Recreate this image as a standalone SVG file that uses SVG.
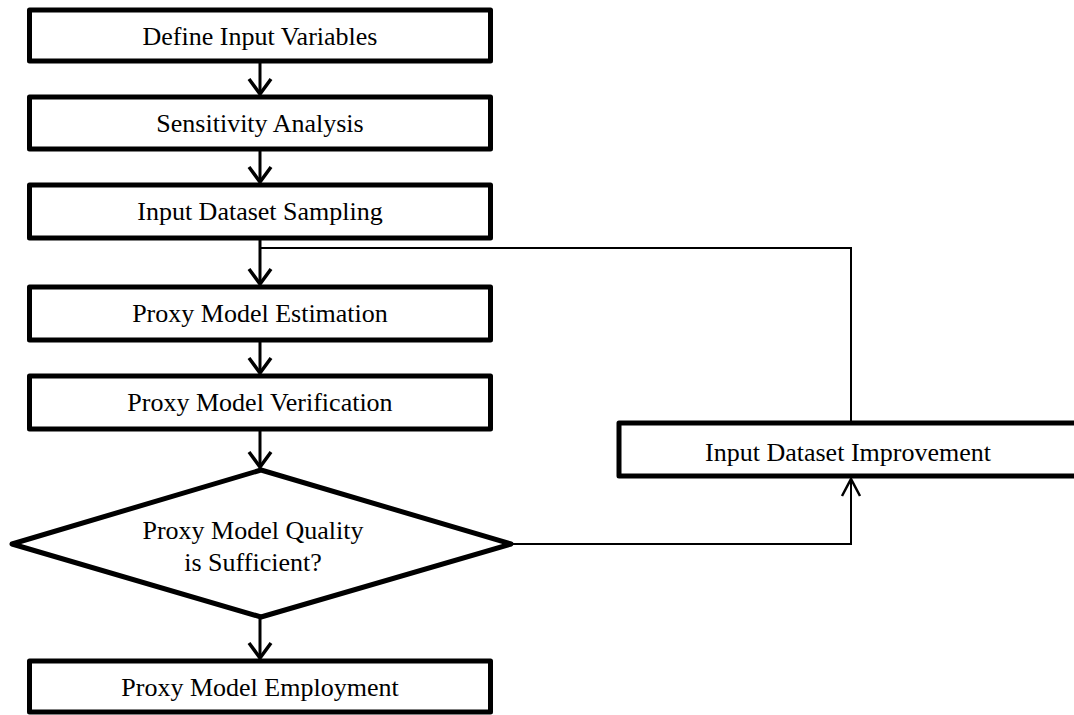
<svg xmlns="http://www.w3.org/2000/svg" width="1074" height="715" viewBox="0 0 1074 715">
  <style>
    .box { fill: #fff; stroke: #000; stroke-width: 5; stroke-linejoin: round; }
    .lbl { font-family: "Liberation Serif", "Times New Roman", serif; font-size: 26px; fill: #000; text-anchor: middle; }
    .thick { fill: none; stroke: #000; stroke-width: 3; }
    .thin { fill: none; stroke: #000; stroke-width: 2; }
  </style>
  <defs>
    <marker id="ah" markerUnits="userSpaceOnUse" orient="auto" refX="16" refY="11" markerWidth="20" markerHeight="24" overflow="visible">
      <path d="M1,0 L16,11 L1,22" fill="none" stroke="#000" stroke-width="3.5"/>
    </marker>
    <marker id="ah2" markerUnits="userSpaceOnUse" orient="auto" refX="17" refY="9" markerWidth="20" markerHeight="20" overflow="visible">
      <path d="M0,0 L17,9 L0,18" fill="none" stroke="#000" stroke-width="2.5"/>
    </marker>
  </defs>
  <rect width="1074" height="715" fill="#fff"/>

  <g id="connectors">
    <line class="thick" x1="260" y1="63" x2="260" y2="94" marker-end="url(#ah)"/>
    <line class="thick" x1="260" y1="151" x2="260" y2="182" marker-end="url(#ah)"/>
    <line class="thick" x1="260" y1="240" x2="260" y2="284" marker-end="url(#ah)"/>
    <line class="thick" x1="260" y1="342" x2="260" y2="373" marker-end="url(#ah)"/>
    <line class="thick" x1="260" y1="431" x2="260" y2="467" marker-end="url(#ah)"/>
    <line class="thick" x1="260" y1="619" x2="260" y2="658" marker-end="url(#ah)"/>
    <polyline class="thin" points="511,544 851,544 851,479" marker-end="url(#ah2)"/>
    <polyline class="thin" points="851,421 851,248 260,248"/>
  </g>

  <g id="n1">
    <rect class="box" x="29.5" y="10" width="461" height="51"/>
    <text class="lbl" x="260" y="45">Define Input Variables</text>
  </g>
  <g id="n2">
    <rect class="box" x="29.5" y="97" width="461" height="52"/>
    <text class="lbl" x="260" y="132">Sensitivity Analysis</text>
  </g>
  <g id="n3">
    <rect class="box" x="29.5" y="185" width="461" height="53"/>
    <text class="lbl" x="260" y="220">Input Dataset Sampling</text>
  </g>
  <g id="n4">
    <rect class="box" x="29.5" y="287" width="461" height="53"/>
    <text class="lbl" x="260" y="322">Proxy Model Estimation</text>
  </g>
  <g id="n5">
    <rect class="box" x="29.5" y="376" width="461" height="53"/>
    <text class="lbl" x="260" y="411">Proxy Model Verification</text>
  </g>
  <g id="n6">
    <polygon class="box" points="261,470 511,544 261,617 12,544"/>
    <text class="lbl" x="253" y="539">Proxy Model Quality</text>
    <text class="lbl" x="253" y="571">is Sufficient?</text>
  </g>
  <g id="n7">
    <rect class="box" x="29.5" y="661" width="461" height="51"/>
    <text class="lbl" x="260" y="696">Proxy Model Employment</text>
  </g>
  <g id="n8">
    <rect class="box" x="619" y="423" width="470" height="53"/>
    <text class="lbl" x="848" y="461">Input Dataset Improvement</text>
  </g>
</svg>
